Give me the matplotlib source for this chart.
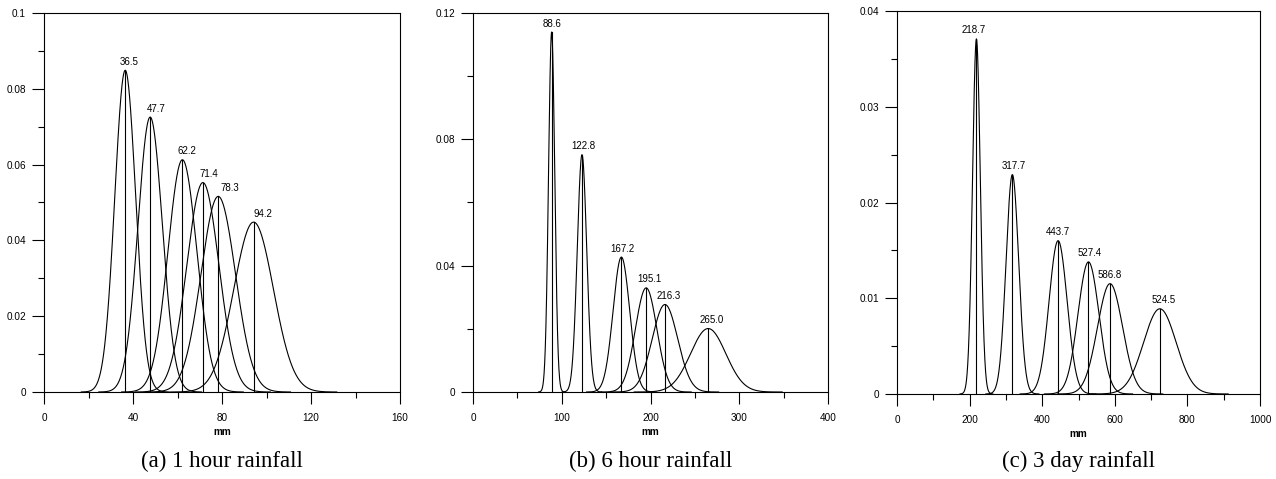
import matplotlib.pyplot as plt
import matplotlib as mpl
import numpy as np

# peak locations (mm), std dev (mm) and label text for each panel
means_1h = [36.5, 47.7, 62.2, 71.4, 78.3, 94.2]
sigma_1h = [4.70, 5.50, 6.51, 7.22, 7.73, 8.90]
labels_1h = ["36.5", "47.7", "62.2", "71.4", "78.3", "94.2"]

means_6h = [88.6, 122.8, 167.2, 195.1, 216.3, 265.0]
sigma_6h = [3.50, 5.31, 9.34, 12.1, 14.4, 19.85]
labels_6h = ["88.6", "122.8", "167.2", "195.1", "216.3", "265.0"]

means_3d = [218.7, 317.7, 443.7, 527.4, 586.8, 724.0]
sigma_3d = [10.75, 17.4, 24.9, 28.9, 34.6, 44.8]
labels_3d = ["218.7", "317.7", "443.7", "527.4", "586.8", "524.5"]

captions = ["(a) 1 hour rainfall", "(b) 6 hour rainfall", "(c) 3 day rainfall"]

panels = [
    dict(means=means_1h, sigma=sigma_1h, labels=labels_1h, dx=[4, 6, 5, 6, 12, 9],
         xlim=160, xmaj=40, ylim=0.1, ymaj=0.02, rect=[0.0345, 0.1816, 0.279, 0.7913]),
    dict(means=means_6h, sigma=sigma_6h, labels=labels_6h, dx=[0, 1, 1, 3, 4, 3],
         xlim=400, xmaj=100, ylim=0.12, ymaj=0.04, rect=[0.3707, 0.1816, 0.2782, 0.7913]),
    dict(means=means_3d, sigma=sigma_3d, labels=labels_3d, dx=[-3, 1, 0, 1, 0, 4],
         xlim=1000, xmaj=200, ylim=0.04, ymaj=0.01, rect=[0.703, 0.1775, 0.2845, 0.7990]),
]

plt.rcParams["font.family"] = ["Liberation Sans", "DejaVu Sans"]
plt.rcParams["font.size"] = 7

fig = plt.figure(figsize=(12.76, 4.79), dpi=100)
fmt = mpl.ticker.FuncFormatter(lambda v, p: f"{v:g}")

for i, p in enumerate(panels):
    ax = fig.add_axes(p["rect"])
    for m, s, lab, dx in zip(p["means"], p["sigma"], p["labels"], p["dx"]):
        x = np.linspace(m - 4.2 * s, m + 4.2 * s, 400)
        y = np.exp(-0.5 * ((x - m) / s) ** 2) / (s * np.sqrt(2 * np.pi))
        pk = 1 / (s * np.sqrt(2 * np.pi))
        ax.plot(x, y, color="black", lw=0.8)
        ax.plot([m, m], [0, pk], color="black", lw=0.8)
        ax.annotate(lab, (m, pk), xytext=(dx * 0.72, 2.5), textcoords="offset points",
                    ha="center", va="bottom", fontsize=7)

    ax.set_xlim(0, p["xlim"])
    ax.set_ylim(0, p["ylim"])
    ax.set_xticks(np.arange(0, p["xlim"] + 1e-9, p["xmaj"]))
    ax.set_xticks(np.arange(p["xmaj"] / 2, p["xlim"], p["xmaj"]), minor=True)
    ax.set_yticks(np.arange(0, p["ylim"] + 1e-9, p["ymaj"]))
    ax.set_yticks(np.arange(p["ymaj"] / 2, p["ylim"], p["ymaj"]), minor=True)
    ax.xaxis.set_major_formatter(fmt)
    ax.yaxis.set_major_formatter(fmt)
    ax.tick_params(which="major", direction="out", length=8.5, width=0.8, labelsize=7.2)
    ax.tick_params(axis="x", which="major", pad=6.5)
    ax.tick_params(axis="y", which="major", pad=4.5)
    ax.tick_params(which="minor", direction="out", length=4.3, width=0.8)
    for sp in ax.spines.values():
        sp.set_linewidth(0.8)
    ax.set_xlabel("mm", fontsize=7.2, fontweight="bold", labelpad=3)

    cx = p["rect"][0] + p["rect"][2] / 2
    fig.text(cx, 0.036, captions[i], ha="center", va="center",
             family="Liberation Serif", fontsize=16.5)

plt.savefig("out.png", dpi=100)
